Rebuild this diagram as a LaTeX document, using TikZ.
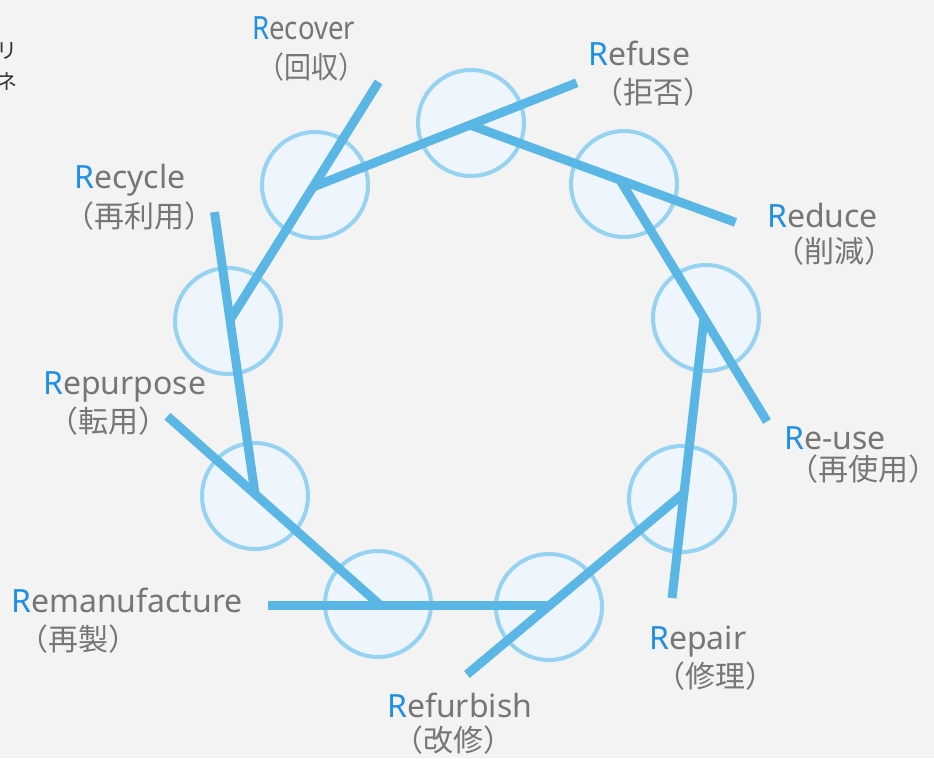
\documentclass[tikz,border=0pt]{standalone}
\usepackage{fontspec}
\setmainfont{Noto Sans}
\newfontfamily\jp{Noto Sans CJK JP}
\usetikzlibrary{calc}

\definecolor{bggray}{HTML}{F3F3F3}
\definecolor{ring}{HTML}{96D3F3}
\definecolor{disc}{HTML}{EEF5FC}
\definecolor{spoke}{HTML}{5AB6E4}
\definecolor{rblue}{HTML}{1E8FE6}
\definecolor{txt}{HTML}{767676}

% blue initial R
\newcommand{\RR}[1]{{\color{rblue}R}#1}

\begin{document}
\begin{tikzpicture}
		[x=1pt,y=-1pt,
		 st/.style={circle,draw=ring,fill=disc,line width=4pt,minimum size=106pt,inner sep=0pt},
		 link/.style={draw=spoke,line width=9pt},
		 en/.style={anchor=base west,inner sep=0pt,text=txt,font=\fontsize{32}{38}\selectfont},
		 jpn/.style={anchor=base west,inner sep=0pt,text=txt,font=\jp\fontsize{30}{34}\selectfont}]

		\useasboundingbox (0,0) rectangle (934,758);
		\fill[bggray] (0,0) rectangle (934,758);

		% cut-off text at the left edge
		\node[anchor=base west,inner sep=0pt,text=black!80,font=\jp\fontsize{21}{24}\selectfont] (k1) at (-4,58) {リ};
		\node[anchor=base west,inner sep=0pt,text=black!80,font=\jp\fontsize{21}{24}\selectfont] (k2) at (-4,89) {ネ};

		% the nine steps
		\node[st] (c1) at (471,123) {};
		\node[st] (c2) at (624,184) {};
		\node[st] (c3) at (706,318) {};
		\node[st] (c4) at (682,499) {};
		\node[st] (c5) at (549,607) {};
		\node[st] (c6) at (378,604) {};
		\node[st] (c7) at (255,496) {};
		\node[st] (c8) at (228,321) {};
		\node[st] (c9) at (315,185) {};

		% where the bars meet
		\coordinate (p1) at (470,125);
		\coordinate (p2) at (620,180);
		\coordinate (p3) at (704,318);
		\coordinate (p4) at (684,493);
		\coordinate (p5) at (550,605);
		\coordinate (p6) at (380,605);
		\coordinate (p7) at (255,494);
		\coordinate (p8) at (230,320);
		\coordinate (p9) at (313,187);

		% free ends, on the line through the next step
		\coordinate (e1) at ($(p9)!1.68!(p1)$);
		\coordinate (e2) at ($(p1)!1.77!(p2)$);
		\coordinate (e3) at ($(p2)!1.75!(p3)$);
		\coordinate (e4) at ($(p3)!1.60!(p4)$);
		\coordinate (e5) at ($(p4)!1.62!(p5)$);
		\coordinate (e6) at ($(p5)!1.66!(p6)$);
		\coordinate (e7) at ($(p6)!1.70!(p7)$);
		\coordinate (e8) at ($(p7)!1.62!(p8)$);
		\coordinate (e9) at ($(p8)!1.79!(p9)$);

		\draw[link] (p9) -- (e1);
		\draw[link] (p1) -- (e2);
		\draw[link] (p2) -- (e3);
		\draw[link] (p3) -- (e4);
		\draw[link] (p4) -- (e5);
		\draw[link] (p5) -- (e6);
		\draw[link] (p6) -- (e7);
		\draw[link] (p7) -- (e8);
		\draw[link] (p8) -- (e9);

		% labels
		\node[en] (t1) at (588,65) {\RR{efuse}};
		\node[jpn] (j1) at (593,103) {（拒否）};

		\node[en] (t2) at (767,227) {\RR{educe}};
		\node[jpn] (j2) at (774,262) {（削減）};

		\node[en] (t3) at (784,449) {\RR{e-use}};
		\node[jpn] (j3) at (788,480) {（再使用）};

		\node[en] (t4) at (649,649) {\RR{epair}};
		\node[jpn] (j4) at (655,687) {（修理）};

		\node[en] (t5) at (387,717) {\RR{efurbish}};
		\node[jpn] (j5) at (393,751) {（改修）};

		\node[en] (t6) at (11,612) {\RR{emanufacture}};
		\node[jpn] (j6) at (18,650) {（再製）};

		\node[en] (t7) at (43,394) {\RR{epurpose}};
		\node[jpn] (j7) at (48,432) {（転用）};

		\node[en] (t8) at (74,188) {\RR{ecycle}};
		\node[jpn] (j8) at (64,227) {（再利用）};

		\node[en] (t9) at (252,39) {\scalebox{0.86}[1]{\RR{ecover}}};
		\node[jpn] (j9) at (257,78) {\scalebox{0.9}[1]{（回収）}};

	\end{tikzpicture}
\end{document}
